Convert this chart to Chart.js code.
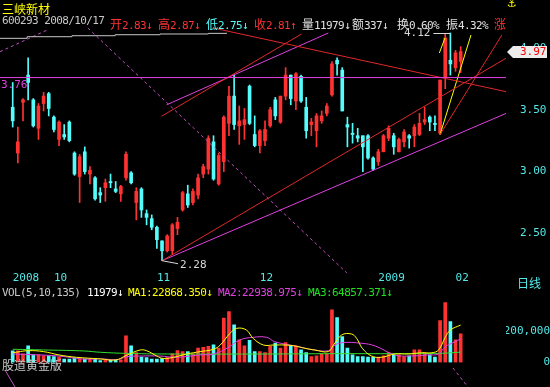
<!DOCTYPE html>
<html>
<head>
<meta charset="utf-8">
<script src="https://cdn.jsdelivr.net/npm/chart.js@4.4.1/dist/chart.umd.min.js"></script>
<style>
html, body { margin: 0; padding: 0; background: #000; }
#wrap { position: relative; width: 550px; height: 387px; background: #000; overflow: hidden; }
#wrap canvas { position: absolute; left: 0; top: 0; }
.t { position: absolute; font: 11px 'DejaVu Sans Mono', monospace; letter-spacing: -0.6px; line-height: 12px; white-space: pre; }
.c { font: 12px 'Noto Sans CJK SC'; letter-spacing: 0; }
</style>
</head>
<body>
<div id="wrap">
  <canvas id="priceChart" width="550" height="387"></canvas>
  <canvas id="volChart" width="550" height="387"></canvas>

  <div class="t c" style="left:2px;top:0;color:#ffff00">三峡新材</div>
  <div class="t" style="left:507px;top:-2px;color:#ffff00;font-family:'DejaVu Sans'">⚓</div>
  <div class="t" style="left:2px;top:15px;color:#c8c8c8">600293 2008/10/17</div>
  <div class="t" style="left:110px;top:15px;color:#ff3232"><span class="c">开</span>2.83↓</div>
  <div class="t" style="left:158px;top:15px;color:#ff3232"><span class="c">高</span>2.87↓</div>
  <div class="t" style="left:206px;top:15px;color:#54fcfc"><span class="c">低</span>2.75↓</div>
  <div class="t" style="left:254px;top:15px;color:#ff3232"><span class="c">收</span>2.81↑</div>
  <div class="t" style="left:302px;top:15px;color:#e0e0e0"><span class="c">量</span>11979↓</div>
  <div class="t" style="left:352px;top:15px;color:#e0e0e0"><span class="c">额</span>337↓</div>
  <div class="t" style="left:397px;top:15px;color:#e0e0e0"><span class="c">换</span>0.60%</div>
  <div class="t" style="left:446px;top:15px;color:#e0e0e0"><span class="c">振</span>4.32%</div>
  <div class="t c" style="left:494px;top:15px;color:#ff3232">涨</div>

  <div class="t c" style="left:517px;top:274px;color:#54e8e8">日线</div>

  <div class="t" style="left:2px;top:287px;color:#c8c8c8">VOL(5,10,135)</div>
  <div class="t" style="left:87px;top:287px;color:#ffffff">11979↓</div>
  <div class="t" style="left:128px;top:287px;color:#ffff00">MA1:22868.350↓</div>
  <div class="t" style="left:218px;top:287px;color:#e040e0">MA2:22938.975↓</div>
  <div class="t" style="left:308px;top:287px;color:#20e020">MA3:64857.371↓</div>

  <div class="t c" style="left:2px;top:356px;color:#c8c8c8">股道黄金版</div>
</div>

<script>
// daily candles, 2008-09-18 .. 2009-02-03 (index 0..87)
const opens = [
  3.52, 3.15, 3.56, 3.78, 3.58, 3.35, 3.55, 3.63, 3.44, 3.26,
  3.30, 3.40, 3.15, 2.96, 3.16, 2.98, 2.95, 2.83, 2.87, 2.92,
  2.86, 2.82, 2.95, 2.99, 2.75, 2.86, 2.66, 2.62, 2.55, 2.44,
  2.36, 2.36, 2.54, 2.69, 2.82, 2.75, 2.81, 2.98, 3.02, 3.24,
  2.90, 3.08, 3.39, 3.61, 3.37, 3.38, 3.69, 3.30, 3.21, 3.25,
  3.37, 3.58, 3.40, 3.61, 3.78, 3.57, 3.77, 3.52, 3.38, 3.33,
  3.41, 3.47, 3.62, 3.90, 3.82, 3.38, 3.31, 3.29, 3.29, 3.29,
  3.11, 3.08, 3.16, 3.27, 3.29, 3.16, 3.24, 3.29, 3.29, 3.30,
  3.40, 3.44, 3.39, 3.31, 3.76, 3.90, 3.84, 3.89
];
const highs = [
  3.72, 3.36, 3.59, 3.92, 3.59, 3.55, 3.64, 3.64, 3.45, 3.41,
  3.38, 3.41, 3.16, 3.14, 3.20, 3.04, 2.96, 2.87, 2.94, 2.98,
  2.92, 2.89, 3.16, 3.00, 2.87, 2.87, 2.69, 2.65, 2.56, 2.44,
  2.49, 2.58, 2.63, 2.84, 2.89, 2.86, 2.98, 3.06, 3.29, 3.29,
  3.15, 3.45, 3.69, 3.78, 3.53, 3.51, 3.70, 3.45, 3.34, 3.41,
  3.52, 3.60, 3.61, 3.84, 3.78, 3.80, 3.78, 3.60, 3.43, 3.47,
  3.49, 3.55, 3.89, 3.92, 3.84, 3.44, 3.39, 3.35, 3.29, 3.30,
  3.12, 3.18, 3.30, 3.37, 3.31, 3.27, 3.34, 3.30, 3.38, 3.47,
  3.52, 3.45, 3.45, 3.74, 4.11, 4.12, 3.98, 4.01
];
const lows = [
  3.36, 3.07, 3.41, 3.58, 3.36, 3.26, 3.49, 3.45, 3.32, 3.21,
  3.26, 3.24, 2.97, 2.75, 2.98, 2.90, 2.77, 2.75, 2.76, 2.87,
  2.83, 2.76, 2.93, 2.90, 2.61, 2.63, 2.57, 2.53, 2.38, 2.28,
  2.35, 2.33, 2.49, 2.68, 2.71, 2.73, 2.78, 2.95, 2.98, 2.93,
  2.89, 3.00, 3.29, 3.34, 3.22, 3.26, 3.38, 3.20, 3.15, 3.21,
  3.36, 3.42, 3.39, 3.58, 3.54, 3.50, 3.56, 3.27, 3.29, 3.20,
  3.39, 3.45, 3.61, 3.78, 3.49, 3.20, 3.23, 3.24, 3.00, 3.10,
  3.01, 3.05, 3.16, 3.25, 3.14, 3.16, 3.20, 3.19, 3.20, 3.29,
  3.38, 3.33, 3.33, 3.30, 3.67, 3.78, 3.81, 3.80
];
const closes = [
  3.41, 3.24, 3.58, 3.72, 3.37, 3.53, 3.61, 3.51, 3.34, 3.40,
  3.28, 3.25, 2.98, 3.12, 3.00, 3.01, 2.78, 2.81, 2.91, 2.91,
  2.84, 2.88, 3.14, 2.91, 2.84, 2.69, 2.63, 2.55, 2.45, 2.36,
  2.48, 2.57, 2.59, 2.83, 2.73, 2.84, 2.95, 3.04, 3.27, 2.94,
  3.13, 3.44, 3.61, 3.38, 3.41, 3.42, 3.39, 3.21, 3.33, 3.34,
  3.50, 3.45, 3.61, 3.78, 3.59, 3.79, 3.57, 3.33, 3.40, 3.45,
  3.45, 3.53, 3.87, 3.87, 3.49, 3.36, 3.30, 3.27, 3.20, 3.11,
  3.02, 3.16, 3.29, 3.35, 3.20, 3.26, 3.32, 3.27, 3.36, 3.39,
  3.42, 3.40, 3.38, 3.74, 4.08, 3.87, 3.96, 3.97
];
const volumes = [
  74000, 74000, 55000, 106000, 49000, 49000, 42000, 42000, 38000, 34000,
  21000, 21000, 27500, 23000, 21000, 23000, 21000, 11979, 17000, 17000,
  17000, 17000, 169000, 106000, 63500, 34000, 32000, 21000, 21000, 25000,
  32000, 55000, 76000, 70000, 70000, 55000, 91000, 97000, 102000, 112000,
  91000, 282000, 324000, 239000, 144000, 106000, 140000, 70000, 70000, 63500,
  102000, 123000, 91000, 127000, 106000, 106000, 80000, 63500, 38000, 42000,
  55000, 55000, 334000, 286000, 165000, 91000, 49000, 38000, 38000, 34000,
  34000, 34000, 42000, 63500, 49000, 49000, 38000, 42000, 80000, 80000,
  63500, 49000, 34000, 267000, 381000, 260000, 144000, 182000
];

// volume averages: [candle index, volume]
const ma5Points = [
  [0, 62000], [3, 75000], [6, 69000], [9, 48000], [12.4, 33000], [17, 23000], [20, 16000],
  [22, 44000], [24.7, 79000], [26, 75000], [28, 41000], [29.3, 25000], [31.2, 33000],
  [33.8, 54000], [36.4, 69000], [39, 84000], [40.3, 111000], [42.2, 185000], [43.5, 217000],
  [45.4, 206000], [46.7, 153000], [48.7, 111000], [50.6, 111000], [52.9, 111000],
  [54.8, 105000], [56.8, 90000], [58.7, 79000], [61.3, 69000], [62.3, 111000],
  [63.9, 175000], [65.8, 181000], [66.8, 153000], [67.9, 90000], [69.7, 41000],
  [71.6, 33000], [74.2, 54000], [76.8, 54000], [79.4, 62000], [81.4, 62000],
  [82.7, 79000], [84, 160000], [85, 206000], [87, 238000]
];
const ma10Points = [
  [0, 54000], [5.3, 48000], [9, 41000], [13.7, 22000], [17, 23000], [20.5, 19000],
  [22, 36000], [24.7, 41000], [28.6, 41000], [31.8, 33000], [36.4, 48000], [39, 54000],
  [41.6, 90000], [44.1, 143000], [46.7, 160000], [49.3, 160000], [50.9, 132000],
  [54.8, 105000], [58.7, 79000], [61.3, 75000], [62.3, 105000], [63.9, 126000],
  [67.8, 122000], [70.4, 105000], [74.2, 48000], [76.8, 41000], [80.7, 48000],
  [82.7, 54000], [84, 100000], [85.9, 132000], [87, 150000]
];
const ma135Points = [
  [0, 84000], [7, 79000], [14, 73000], [17, 65000], [22, 58000], [30, 54000],
  [50, 54000], [62, 56000], [75, 56000], [83, 58000], [87, 66000]
];

// hand-drawn lines on the price panel: [candle index, price]
const levelLine = [[-2.47, 3.76], [95.8, 3.76]];
const supportLine = [[29, 2.28], [95.8, 3.47]];
const supportTop = [[29.9, 3.54], [61.3, 4.12]];
const riseLine = [[29, 2.28], [95.8, 3.916]];
const riseTop = [[28.9, 3.447], [56.1, 4.112]];
const fallLine = [[39.0, 4.16], [95.8, 3.646]];
const steepRed = [[83, 3.30], [95.0, 4.104]];
const steepYellow = [[83, 3.30], [89.0, 4.104]];
const shortYellow = [[82.85, 3.958], [83.96, 4.08]];
const dashFall = [[14.6, 4.16], [64.9, 2.181]];
const dashRise = [[-2.47, 3.969], [6.66, 4.143]];
const longAverage = [[-2.47, 4.077], [2.8, 4.09], [11.5, 4.098], [19.9, 4.106], [28.6, 4.112], [38.0, 4.117], [41.6, 4.117]];
// line stubs under the volume panel: [candle index, volume]
const volStubLeft = [[-1.5, -47600], [0.45, -155600]];
const volStubRight = [[85.5, -34900], [88.4, -155600]];

const dateTicks = [0, 8, 28, 48, 71, 86];
const dateLabels = ['2008', '10', '11', '12', '2009', '02'];
const priceTicks = [2.5, 3.0, 3.5, 4.0];
const volumeTicks = [0, 200000];
const levelValue = 3.76;

const upColor = '#ff3232';
const downColor = '#54fcfc';
const axisText = '#54e8e8';
const monoFont = { family: 'DejaVu Sans Mono', size: 11 };
const xMin = -2.466, xMax = 95.8;

const idx = closes.map((c, i) => i);
const candleColors = idx.map(i => closes[i] >= opens[i] ? upColor : downColor);

function seg(points, color, extra) {
    return Object.assign({
        type: 'line',
        data: points.map(p => ({ x: p[0], y: p[1] })),
        borderColor: color,
        borderWidth: 1,
        pointRadius: 0,
        fill: false,
        tension: 0,
        order: 0
    }, extra || {});
}

const markers = {
    id: 'markers',
    afterDatasetsDraw(chart) {
        const { ctx, scales: { x, y } } = chart;
        ctx.save();
        ctx.font = '11px "DejaVu Sans Mono"';
        ctx.textBaseline = 'middle';

        // level label under the horizontal line
        ctx.fillStyle = '#e040e0';
        ctx.textAlign = 'left';
        ctx.fillText(levelValue.toFixed(2), 1, y.getPixelForValue(levelValue) + 8);

        // highest high
        const hi = highs.indexOf(Math.max(...highs));
        const hx = x.getPixelForValue(hi), hy = Math.round(y.getPixelForValue(highs[hi])) + 0.5;
        ctx.strokeStyle = '#d8d8d8';
        ctx.lineWidth = 1;
        ctx.beginPath(); ctx.moveTo(hx - 17, hy); ctx.lineTo(hx, hy); ctx.stroke();
        ctx.fillStyle = '#d8d8d8';
        ctx.textAlign = 'right';
        ctx.fillText(highs[hi].toFixed(2), hx - 20, hy);

        // lowest low
        const lo = lows.indexOf(Math.min(...lows));
        const lx = x.getPixelForValue(lo), ly = y.getPixelForValue(lows[lo]);
        ctx.beginPath(); ctx.moveTo(lx, ly); ctx.lineTo(lx + 16, ly + 3); ctx.stroke();
        ctx.textAlign = 'left';
        ctx.fillText(lows[lo].toFixed(2), lx + 18, ly + 4);
        ctx.restore();
    },
    afterDraw(chart) { // last close tag on the price axis
        const { ctx, chartArea, scales: { y } } = chart;
        const last = closes[closes.length - 1];
        const yc = Math.round(y.getPixelForValue(last));
        const left = chartArea.right + 1;
        ctx.save();
        ctx.fillStyle = '#ececec';
        ctx.beginPath();
        ctx.moveTo(left, yc);
        ctx.lineTo(left + 6, yc - 6);
        ctx.lineTo(547, yc - 6);
        ctx.lineTo(547, yc + 6);
        ctx.lineTo(left + 6, yc + 6);
        ctx.closePath();
        ctx.fill();
        ctx.fillStyle = '#ff0000';
        ctx.font = '11px "DejaVu Sans Mono"';
        ctx.textBaseline = 'middle';
        ctx.textAlign = 'left';
        ctx.fillText(last.toFixed(2), 520, yc);
        ctx.restore();
    }
};

new Chart(document.getElementById('priceChart'), {
    type: 'bar',
    data: {
        datasets: [
            seg(longAverage, '#c8c8c8', { stepped: true }),
            seg(levelLine, '#e040e0'),
            seg(dashRise, '#c050c0', { borderDash: [3, 3] }),
            seg(dashFall, '#c050c0', { borderDash: [3, 3], clip: false }),
            seg(fallLine, '#e02828'),
            seg(riseLine, '#e02828'),
            seg(riseTop, '#e02828'),
            seg(supportLine, '#e040e0'),
            seg(supportTop, '#e040e0'),
            seg(steepRed, '#e02828'),
            seg(steepYellow, '#ffff00'),
            seg(shortYellow, '#ffff00'),
            {
                type: 'bar',
                data: idx.map(i => ({ x: i, y: [opens[i], closes[i]] })),
                backgroundColor: candleColors,
                barThickness: 3,
                minBarLength: 1,
                grouped: false,
                order: 1
            },
            {
                type: 'bar',
                data: idx.map(i => ({ x: i, y: [lows[i], highs[i]] })),
                backgroundColor: candleColors,
                barThickness: 1,
                grouped: false,
                order: 2
            }
        ]
    },
    options: {
        responsive: false,
        animation: false,
        layout: { padding: { top: 28, bottom: 99, left: 0, right: 0 } },
        plugins: { legend: { display: false }, tooltip: { enabled: false } },
        scales: {
            x: {
                type: 'linear', min: xMin, max: xMax, offset: false,
                grid: { display: false, drawTicks: false },
                border: { display: false },
                afterBuildTicks: s => { s.ticks = dateTicks.map(v => ({ value: v })); },
                afterFit: s => { s.height = 20; },
                ticks: {
                    align: 'start', padding: 4, autoSkip: false, maxRotation: 0,
                    color: axisText, font: monoFont,
                    callback: v => dateLabels[dateTicks.indexOf(v)]
                }
            },
            y: {
                position: 'right', min: 2.221, max: 4.1604,
                grid: { display: false, drawTicks: false },
                border: { display: false },
                afterBuildTicks: s => { s.ticks = priceTicks.map(v => ({ value: v })); },
                afterFit: s => { s.width = 44; },
                ticks: { crossAlign: 'near', padding: 14, color: axisText, font: monoFont, callback: v => v.toFixed(2) }
            }
        }
    },
    plugins: [markers]
});

new Chart(document.getElementById('volChart'), {
    type: 'bar',
    data: {
        datasets: [
            seg(ma5Points, '#ffff00', { tension: 0.4 }),
            seg(ma10Points, '#e040e0', { tension: 0.4 }),
            seg(ma135Points, '#30e030', { tension: 0.4 }),
            seg(volStubLeft, '#c050c0', { clip: false }),
            seg(volStubRight, '#c050c0', { borderDash: [3, 3], clip: false }),
            {
                type: 'bar',
                data: idx.map(i => ({ x: i, y: volumes[i] })),
                backgroundColor: candleColors,
                barThickness: 3,
                grouped: false,
                order: 1
            }
        ]
    },
    options: {
        responsive: false,
        animation: false,
        layout: { padding: { top: 298, bottom: 24.5, left: 0, right: 0 } },
        plugins: { legend: { display: false }, tooltip: { enabled: false } },
        scales: {
            x: { type: 'linear', display: false, min: xMin, max: xMax, offset: false },
            y: {
                position: 'right', min: 0, max: 409600,
                grid: { display: false, drawTicks: false },
                border: { display: false },
                afterBuildTicks: s => { s.ticks = volumeTicks.map(v => ({ value: v })); },
                afterFit: s => { s.width = 44; },
                ticks: { crossAlign: 'far', padding: 1, color: axisText, font: monoFont }
            }
        }
    }
});
</script>
</body>
</html>
